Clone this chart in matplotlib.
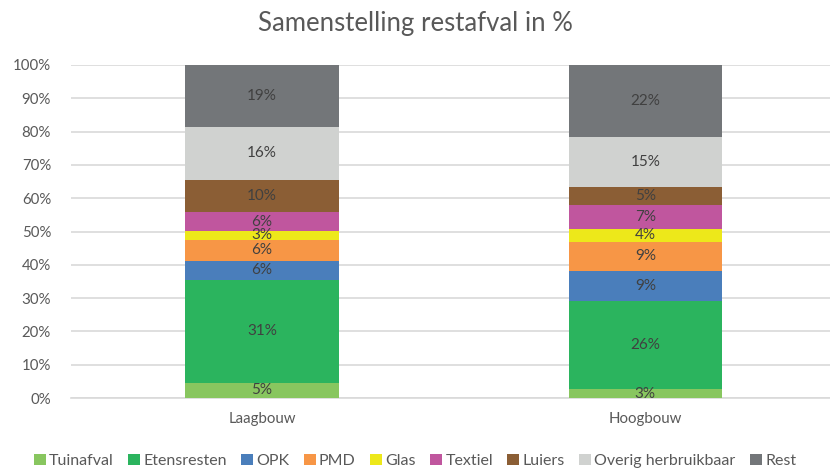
import numpy as np
import matplotlib
matplotlib.use("Agg")
import matplotlib.pyplot as plt
from matplotlib.ticker import PercentFormatter

plt.rcParams['font.family'] = ['Lato', 'DejaVu Sans']

categories = ["Laagbouw", "Hoogbouw"]
fractions = ["Tuinafval", "Etensresten", "OPK", "PMD", "Glas", "Textiel",
             "Luiers", "Overig herbruikbaar", "Rest"]

# raw shares per category (Excel 100% stacked normalises them)
laagbouw = [4.7, 31.4, 5.8, 6.3, 2.8, 5.7, 9.8, 16.3, 18.8]
hoogbouw = [2.6, 26.4, 9.2, 8.7, 3.9, 7.3, 5.3, 14.9, 21.7]

colors = ["#88C65F", "#2BB45E", "#4A7EBB", "#F79646", "#EDE81A",
          "#C0569E", "#8B5E35", "#D0D2D0", "#737679"]

TEXT = "#595959"


def main():
    data = np.array([laagbouw, hoogbouw])
    shares = data / data.sum(axis=1, keepdims=True) * 100

    fig = plt.figure(figsize=(8.3, 4.72), dpi=100)
    ax = fig.add_axes([70.5 / 830, 1 - 398 / 472, 1 - 70.5 / 830, 333 / 472])

    x = np.arange(len(categories))
    bottom = np.zeros(len(categories))
    for i, name in enumerate(fractions):
        bars = ax.bar(x, shares[:, i], 0.4, bottom=bottom, color=colors[i],
                      label=name, zorder=3)
        for j, b in enumerate(bars):
            ax.text(b.get_x() + b.get_width() / 2, bottom[j] + shares[j, i] / 2,
                    "%d%%" % round(data[j, i]), ha="center", va="center",
                    fontsize=11, color="#404040", zorder=4)
        bottom += shares[:, i]

    ax.set_xlim(-0.5, 1.482)
    ax.set_ylim(0, 100)
    ax.set_yticks(range(0, 101, 10))
    ax.yaxis.set_major_formatter(PercentFormatter(decimals=0))
    ax.set_xticks(x)
    ax.set_xticklabels(categories)
    ax.grid(axis="y", color="#D9D9D9", linewidth=1.2, zorder=0)
    for s in ["top", "right", "left"]:
        ax.spines[s].set_visible(False)
    ax.spines["bottom"].set_color("#D9D9D9")
    ax.spines["bottom"].set_linewidth(1.2)
    ax.tick_params(axis="both", length=0, labelsize=10.8, colors=TEXT)
    ax.tick_params(axis="y", pad=14)
    ax.tick_params(axis="x", pad=10)

    fig.text(0.5, 1 - 24 / 472, "Samenstelling restafval in %", ha="center",
             va="center", fontsize=18.5, color=TEXT)

    fig.legend(loc="center", bbox_to_anchor=(0.5, 1 - 461 / 472), ncol=9,
               frameon=False, fontsize=11.5, handlelength=0.75,
               handleheight=0.75, handletextpad=0.2, columnspacing=0.9,
               labelcolor=TEXT, borderaxespad=0)

    fig.savefig("out.png", dpi=100)


if __name__ == "__main__":
    main()
